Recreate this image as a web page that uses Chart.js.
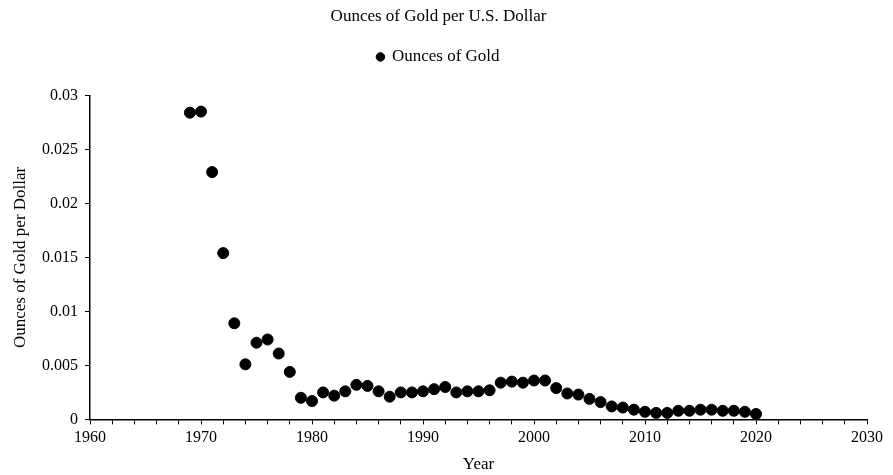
<!DOCTYPE html>
<html>
<head>
<meta charset="utf-8">
<script src="https://cdn.jsdelivr.net/npm/chart.js@4/dist/chart.umd.min.js"></script>
<style>
  html, body { margin: 0; padding: 0; background: #fff; }
  #wrap { width: 893px; height: 475px; position: relative; }
</style>
</head>
<body>
<div id="wrap"><canvas id="c" width="893" height="475"></canvas></div>
<script>
const chartTitle = "Ounces of Gold per U.S. Dollar";
const seriesName = "Ounces of Gold";
const xAxisTitle = "Year";
const yAxisTitle = "Ounces of Gold per Dollar";

const years = [1969,1970,1971,1972,1973,1974,1975,1976,1977,1978,1979,1980,
  1981,1982,1983,1984,1985,1986,1987,1988,1989,1990,1991,1992,1993,1994,1995,
  1996,1997,1998,1999,2000,2001,2002,2003,2004,2005,2006,2007,2008,2009,2010,
  2011,2012,2013,2014,2015,2016,2017,2018,2019,2020];
const ounces = [0.0284,0.0285,0.0229,0.0154,0.0089,0.0051,0.0071,0.0074,0.0061,0.0044,0.0020,0.0017,
  0.0025,0.0022,0.0026,0.0032,0.0031,0.0026,0.0021,0.0025,0.0025,0.0026,0.0028,0.0030,0.0025,0.0026,0.0026,
  0.0027,0.0034,0.0035,0.0034,0.0036,0.0036,0.0029,0.0024,0.0023,0.0019,0.0016,0.0012,0.0011,0.0009,0.0007,
  0.0006,0.0006,0.0008,0.0008,0.0009,0.0009,0.0008,0.0008,0.0007,0.0005];

const xMin = 1960, xMax = 2030, xStep = 2, xLabelEvery = 10;
const yMin = 0, yMax = 0.03, yStep = 0.005;

const points = years.map((y, i) => ({ x: y, y: ounces[i] }));
const FONT = "'Liberation Serif', 'Times New Roman', serif";

const legendMargin = {
  id: 'legendMargin',
  beforeInit(chart) {
    const orig = chart.legend.fit;
    chart.legend.fit = function () {
      orig.call(this);
      this.height += 20;
    };
  }
};

new Chart(document.getElementById('c'), {
  type: 'scatter',
  data: {
    datasets: [{
      label: seriesName,
      data: points,
      backgroundColor: '#000',
      borderColor: '#000',
      pointRadius: 5.5,
      pointHoverRadius: 5.5
    }]
  },
  options: {
    responsive: false,
    animation: false,
    layout: { padding: { left: 10, right: 26, top: 4, bottom: 0 } },
    plugins: {
      title: {
        display: true,
        text: chartTitle,
        color: '#000',
        font: { family: FONT, size: 17, weight: 'normal' },
        padding: { top: 2, bottom: 16 }
      },
      legend: {
        display: true,
        labels: {
          usePointStyle: true,
          pointStyle: 'circle',
          boxWidth: 6,
          boxHeight: 6,
          color: '#000',
          font: { family: FONT, size: 17 },
          padding: 6
        }
      },
      tooltip: { enabled: false }
    },
    scales: {
      x: {
        type: 'linear',
        min: xMin, max: xMax,
        title: { display: true, text: xAxisTitle, color: '#000', font: { family: FONT, size: 17 }, padding: { top: 3, bottom: 0 } },
        ticks: {
          stepSize: xStep,
          autoSkip: false,
          maxRotation: 0,
          color: '#000',
          font: { family: FONT, size: 16 },
          padding: 4,
          callback: v => (v % xLabelEvery === 0 ? String(v) : '')
        },
        grid: { drawOnChartArea: false, drawTicks: true, tickLength: 5, color: '#000', lineWidth: 1 },
        border: { color: '#000', width: 1.5 }
      },
      y: {
        min: yMin, max: yMax,
        title: { display: true, text: yAxisTitle, color: '#000', font: { family: FONT, size: 17 }, padding: { top: 0, bottom: 6 } },
        ticks: {
          stepSize: yStep,
          color: '#000',
          font: { family: FONT, size: 16 },
          padding: 7,
          callback: v => String(+v.toFixed(3))
        },
        grid: { drawOnChartArea: false, drawTicks: true, tickLength: 5, color: '#000', lineWidth: 1 },
        border: { color: '#000', width: 1.5 },
        afterFit: s => { s.width = 80; }
      }
    }
  },
  plugins: [legendMargin]
});
</script>
</body>
</html>
